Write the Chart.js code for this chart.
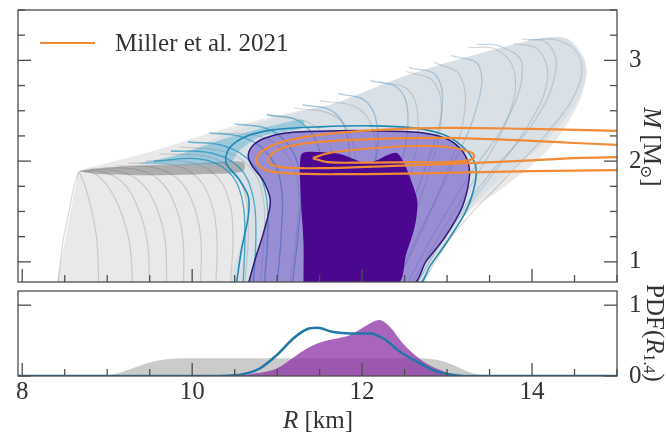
<!DOCTYPE html>
<html>
<head>
<meta charset="utf-8">
<script src="https://cdn.jsdelivr.net/npm/chart.js@4.4.1/dist/chart.umd.min.js"></script>
<style>
  html, body { margin: 0; padding: 0; background: #fff; }
  #wrap { position: relative; width: 666px; height: 433px; }
  #mr { position: absolute; left: 0; top: 0; }
  #pdf { position: absolute; left: 0; top: 283px; }
</style>
</head>
<body>
<div id="wrap">
  <canvas id="mr" width="666" height="290"></canvas>
  <canvas id="pdf" width="666" height="150"></canvas>
</div>
<script>
// axis limits and tick labels
const rRange = [7.95, 15];
const massRange = [0.8, 3.5];
const pdfRange = [0, 1.2];
const rTicks = [8, 10, 12, 14];
const massTicks = [1, 2, 3];
const pdfTicks = [0, 1];
const millerLabel = 'Miller et al. 2021';

// envelope of all prior M-R curves, [R km, M Msun]
const priorBand = [
  [8.40,0.78],[8.50,1.20],[8.58,1.55],[8.64,1.80],[8.66,1.90],[8.95,1.97],[9.50,2.09],
  [10.10,2.25],[10.60,2.37],[11.27,2.50],[11.66,2.57],[12.45,2.83],[13.22,3.03],[14.00,3.20],
  [14.40,3.22],[14.60,3.04],[14.64,2.86],[14.55,2.58],[14.20,2.12],[13.62,1.71],[13.24,1.49],
  [13.00,1.20],[12.80,0.95],[12.70,0.78]
];

// where the maximum-mass ends of the prior curves pile up
const priorRidge = [
  [8.66,1.90],[8.90,1.93],[9.50,1.96],[10.10,1.98],[10.60,1.99],[10.60,1.90],[10.10,1.87],
  [9.50,1.86],[8.90,1.87]
];

// envelope of the posterior M-R curves
const posteriorBand = [
  [9.50,1.96],[9.90,2.08],[10.30,2.24],[10.80,2.38],[11.30,2.50],[11.70,2.58],[12.45,2.83],
  [13.22,3.03],[14.00,3.20],[14.40,3.22],[14.60,3.04],[14.64,2.86],[14.50,2.55],[14.10,2.15],
  [13.60,1.80],[13.30,1.55],[13.05,1.25],[12.85,1.00],[12.70,0.78],[10.50,0.78],[10.58,1.20],
  [10.64,1.55],[10.55,1.80],[10.30,1.93]
];

// dense part of the posterior curves near their maximum mass
const posteriorRidge = [
  [9.35,1.97],[9.90,2.08],[10.30,2.20],[10.80,2.32],[11.30,2.41],[11.30,2.33],[10.80,2.24],
  [10.55,2.10],[10.45,1.99],[10.00,1.97]
];

// individual prior M-R curves
const priorCurves = [
  [[8.42,0.78],[8.48,1.20],[8.55,1.50],[8.61,1.75],[8.66,1.89]],
  [[8.90,0.78],[8.88,1.20],[8.82,1.50],[8.74,1.75],[8.67,1.89]],
  [[9.30,0.78],[9.26,1.20],[9.15,1.52],[9.00,1.76],[8.84,1.88],[8.68,1.90]],
  [[9.50,0.78],[9.47,1.21],[9.36,1.54],[9.19,1.78],[8.96,1.89],[8.72,1.91]],
  [[9.70,0.78],[9.68,1.22],[9.57,1.56],[9.38,1.80],[9.12,1.90],[8.80,1.92]],
  [[9.90,0.78],[9.89,1.23],[9.79,1.58],[9.60,1.82],[9.32,1.92],[8.95,1.93]],
  [[10.10,0.78],[10.10,1.25],[10.00,1.60],[9.82,1.83],[9.52,1.94],[9.10,1.95]],
  [[10.28,0.78],[10.29,1.26],[10.21,1.62],[10.03,1.86],[9.73,1.97],[9.25,1.98]],
  [[10.45,0.78],[10.48,1.28],[10.42,1.65],[10.25,1.88],[9.95,1.99],[9.45,2.00]],
  [[10.62,0.78],[10.66,1.29],[10.62,1.68],[10.46,1.92],[10.15,2.05],[9.62,2.07]],
  [[10.80,0.78],[10.85,1.30],[10.82,1.70],[10.66,1.96],[10.35,2.10],[9.85,2.14]],
  [[11.15,0.78],[11.23,1.30],[11.25,1.75],[11.12,2.06],[10.82,2.24],[10.30,2.28]],
  [[11.50,0.78],[11.62,1.30],[11.70,1.80],[11.62,2.16],[11.38,2.38],[10.90,2.45]],
  [[11.68,0.78],[11.82,1.30],[11.92,1.82],[11.88,2.21],[11.67,2.45],[11.20,2.53]],
  [[11.85,0.78],[12.02,1.30],[12.14,1.85],[12.14,2.26],[11.96,2.52],[11.50,2.60]],
  [[12.15,0.78],[12.38,1.30],[12.58,1.90],[12.66,2.36],[12.55,2.70],[12.20,2.79]],
  [[12.28,0.78],[12.54,1.30],[12.79,1.90],[12.93,2.40],[12.85,2.78],[12.52,2.89]],
  [[12.40,0.78],[12.70,1.30],[13.00,1.90],[13.20,2.45],[13.15,2.85],[12.85,2.98]],
  [[12.58,0.78],[12.94,1.30],[13.35,1.86],[13.70,2.40],[13.80,2.85],[13.60,3.10],[13.25,3.13]],
  [[12.64,0.78],[13.02,1.30],[13.50,1.83],[13.95,2.35],[14.18,2.80],[14.08,3.10],[13.78,3.17]],
  [[12.70,0.78],[13.10,1.30],[13.65,1.80],[14.20,2.30],[14.55,2.75],[14.55,3.05],[14.30,3.20],[13.95,3.20]]
];

// individual posterior M-R curves
const posteriorCurves = [
  [[10.60,0.78],[10.62,1.30],[10.58,1.65],[10.42,1.90],[10.10,2.02],[9.55,2.00]],
  [[10.72,0.78],[10.75,1.30],[10.71,1.67],[10.55,1.94],[10.22,2.08],[9.75,2.10]],
  [[10.85,0.78],[10.89,1.30],[10.86,1.70],[10.70,1.98],[10.38,2.15],[9.95,2.19]],
  [[11.00,0.78],[11.05,1.30],[11.05,1.74],[10.92,2.04],[10.62,2.23],[10.20,2.28]],
  [[11.18,0.78],[11.25,1.30],[11.28,1.77],[11.18,2.10],[10.92,2.31],[10.50,2.37]],
  [[11.38,0.78],[11.48,1.30],[11.53,1.81],[11.47,2.18],[11.25,2.40],[10.88,2.46]],
  [[11.60,0.78],[11.73,1.30],[11.83,1.85],[11.83,2.24],[11.66,2.49],[11.30,2.56]],
  [[11.82,0.78],[11.98,1.30],[12.13,1.88],[12.18,2.31],[12.05,2.59],[11.72,2.67]],
  [[12.02,0.78],[12.22,1.30],[12.43,1.90],[12.54,2.39],[12.44,2.71],[12.10,2.80]],
  [[12.22,0.78],[12.46,1.30],[12.73,1.90],[12.93,2.45],[12.88,2.84],[12.55,2.93]],
  [[12.40,0.78],[12.68,1.30],[13.03,1.90],[13.33,2.48],[13.38,2.94],[13.05,3.05]],
  [[12.53,0.78],[12.86,1.30],[13.28,1.88],[13.73,2.45],[13.88,2.97],[13.62,3.14],[13.35,3.16]],
  [[12.64,0.78],[13.00,1.30],[13.48,1.85],[14.03,2.40],[14.28,2.90],[14.18,3.17],[13.88,3.21]]
];

// credible regions
const contourOuter = [
  [10.52,0.78],[10.58,1.12],[10.66,1.45],[10.66,1.65],[10.55,1.82],[10.40,1.98],[10.43,2.12],
  [10.62,2.24],[10.95,2.31],[11.50,2.34],[12.10,2.35],[12.60,2.33],[12.97,2.26],[13.20,2.13],
  [13.33,1.97],[13.33,1.78],[13.22,1.50],[13.00,1.20],[12.80,0.96],[12.66,0.78]
];
const contour90 = [
  [10.66,0.78],[10.75,1.05],[10.84,1.29],[10.92,1.60],[10.84,1.80],[10.70,1.96],[10.66,2.06],
  [10.72,2.16],[10.86,2.23],[11.10,2.28],[11.60,2.30],[12.20,2.30],[12.72,2.28],[13.00,2.22],
  [13.16,2.12],[13.25,1.98],[13.26,1.82],[13.18,1.55],[12.98,1.25],[12.75,1.00],[12.59,0.78]
];
const contour50 = [
  [11.31,0.78],[11.31,1.20],[11.28,1.60],[11.27,1.98],[11.30,2.08],[11.50,2.09],[11.74,2.07],
  [11.90,2.02],[12.05,1.98],[12.18,2.01],[12.30,2.06],[12.41,2.08],[12.50,1.97],[12.58,1.80],
  [12.65,1.60],[12.62,1.35],[12.52,1.08],[12.41,0.78]
];

// Miller et al. 2021 contours
const millerOuter = [
  [15.05,2.30],[14.50,2.31],[14.00,2.32],[13.00,2.33],[12.20,2.31],[11.60,2.27],[11.15,2.21],
  [10.88,2.13],[10.75,2.01],[10.85,1.92],[11.10,1.88],[11.80,1.87],[12.80,1.88],[14.00,1.90],[15.05,1.91]
];
const millerMid = [
  [15.05,2.16],[14.50,2.18],[14.00,2.20],[13.00,2.23],[12.20,2.22],[11.50,2.19],[11.10,2.14],
  [10.92,2.06],[10.90,1.99],[11.05,1.94],[11.50,1.93],[12.30,1.95],[13.00,1.97],[13.80,2.00],
  [14.50,2.03],[15.05,2.04]
];
const millerInner = [
  [11.42,2.03],[11.60,2.08],[12.00,2.12],[12.60,2.15],[13.00,2.14],[13.30,2.08],[13.30,2.02],
  [13.00,1.99],[12.60,1.99],[12.00,1.985],[11.60,1.99],[11.42,2.03]
];

// PDF of R_1.4
const pdfPrior = [
  [8.90,0],[9.10,0.03],[9.30,0.11],[9.50,0.19],[9.70,0.235],[9.90,0.25],[10.50,0.25],[11.00,0.25],
  [11.50,0.25],[12.00,0.25],[12.50,0.25],[12.80,0.24],[12.95,0.21],[13.10,0.14],[13.25,0.06],
  [13.40,0.015],[13.55,0]
];
const pdfPurple = [
  [10.45,0],[10.70,0.03],[10.90,0.07],[11.00,0.11],[11.20,0.27],[11.35,0.39],[11.55,0.49],
  [11.86,0.58],[12.06,0.72],[12.20,0.79],[12.33,0.69],[12.48,0.46],[12.65,0.27],[12.80,0.15],
  [12.92,0.085],[13.05,0.03],[13.20,0]
];
const pdfBlue = [
  [7.95,0],[10.30,0],[10.50,0.01],[10.65,0.04],[10.80,0.11],[11.00,0.30],[11.19,0.53],[11.35,0.66],
  [11.47,0.68],[11.66,0.62],[11.86,0.60],[12.09,0.60],[12.25,0.53],[12.45,0.34],[12.65,0.20],
  [12.84,0.08],[13.04,0.02],[13.20,0],[15.00,0]
];

const FONT = "'Liberation Serif', 'DejaVu Serif', serif";
const INK = '#333';
const ORANGE = '#f08a36';
Chart.defaults.font.family = FONT;
Chart.defaults.color = INK;

const pts = arr => arr.map(([x, y]) => ({ x, y }));
const closed = arr => arr.concat([arr[0]]);
const series = (data, style) => Object.assign({
  data: pts(data), showLine: true, pointRadius: 0, borderWidth: 1,
  fill: false, tension: 0.4
}, style);
const steps = (a, b, s) => { const out = []; for (let v = a; v <= b + 1e-9; v += s) out.push(+v.toFixed(2)); return out; };

// frame with inward ticks on the left, right and bottom
const frameTicks = {
  id: 'frameTicks',
  afterDatasetsDraw(chart, args, o) {
    const { ctx, chartArea: a, scales } = chart;
    ctx.save();
    ctx.strokeStyle = '#4d4d4d';
    ctx.lineWidth = 1.3;
    const seg = (x1, y1, x2, y2) => { ctx.beginPath(); ctx.moveTo(x1, y1); ctx.lineTo(x2, y2); ctx.stroke(); };
    const xMaj = o.xMajor, yMaj = o.yMajor;
    o.xMinor.forEach(v => { if (!xMaj.includes(v)) { const x = scales.x.getPixelForValue(v); seg(x, a.bottom, x, a.bottom - 7); } });
    xMaj.forEach(v => { const x = scales.x.getPixelForValue(v); seg(x, a.bottom, x, a.bottom - 13); });
    o.yMinor.forEach(v => {
      if (yMaj.includes(v)) return;
      const y = scales.y.getPixelForValue(v);
      seg(a.left, y, a.left + 7, y); seg(a.right, y, a.right - 7, y);
    });
    yMaj.forEach(v => {
      const y = scales.y.getPixelForValue(v);
      seg(a.left, y, a.left + 13, y); seg(a.right, y, a.right - 13, y);
    });
    ctx.strokeRect(a.left, a.top, a.right - a.left, a.bottom - a.top);
    ctx.restore();
  }
};

function richText(ctx, parts, x, y, angle) {
  ctx.save();
  ctx.translate(x, y);
  ctx.rotate(angle);
  let total = 0;
  parts.forEach(p => { ctx.font = p.font; p.w = ctx.measureText(p.text).width; total += p.w; });
  let cx = -total / 2;
  ctx.textBaseline = 'middle';
  ctx.fillStyle = INK;
  parts.forEach(p => { ctx.font = p.font; ctx.fillText(p.text, cx, p.dy || 0); cx += p.w; });
  ctx.restore();
}

const big = `25px ${FONT}`, ital = `italic 25px ${FONT}`, small = `16px ${FONT}`;

const mrLabels = {
  id: 'mrLabels',
  afterDraw(chart) {
    const { ctx } = chart;
    richText(ctx, [
      { text: 'M', font: ital }, { text: ' [M', font: big },
      { text: '\u2299', font: small, dy: 6 }, { text: ']', font: big }
    ], 651, 147, Math.PI / 2);
    ctx.save();
    ctx.strokeStyle = ORANGE; ctx.lineWidth = 2.2;
    ctx.beginPath(); ctx.moveTo(40, 43); ctx.lineTo(95, 43); ctx.stroke();
    ctx.font = big; ctx.fillStyle = INK; ctx.textBaseline = 'middle';
    ctx.fillText(millerLabel, 115, 44);
    ctx.restore();
  }
};

const pdfLabels = {
  id: 'pdfLabels',
  afterDraw(chart) {
    const { ctx } = chart;
    richText(ctx, [
      { text: 'PDF(', font: big }, { text: 'R', font: ital },
      { text: '1.4', font: small, dy: 6 }, { text: ')', font: big }
    ], 654, 50, Math.PI / 2);
    richText(ctx, [{ text: 'R', font: ital }, { text: ' [km]', font: big }], 318, 138, 0);
  }
};

const noPad = s => { s.paddingTop = 0; s.paddingBottom = 0; s.paddingLeft = 0; s.paddingRight = 0; };

// top panel layers, listed from back to front
const mrLayers = [];
mrLayers.push(series(priorBand, { fill: 'shape', backgroundColor: 'rgba(175,175,175,0.28)', borderWidth: 0, tension: 0.3 }));
priorCurves.forEach(c => mrLayers.push(series(c, { borderColor: 'rgba(110,110,110,0.26)', borderWidth: 1.2 })));
mrLayers.push(series(priorRidge, { fill: 'shape', backgroundColor: 'rgba(85,85,85,0.4)', borderWidth: 0, tension: 0.3 }));
mrLayers.push(series(posteriorBand, { fill: 'shape', backgroundColor: 'rgba(130,180,215,0.16)', borderWidth: 0, tension: 0.3 }));
mrLayers.push(series(posteriorRidge, { fill: 'shape', backgroundColor: 'rgba(30,150,195,0.32)', borderWidth: 0, tension: 0.3 }));
posteriorCurves.forEach((c, i) => {
  const a = (0.7 - i * 0.035).toFixed(2);
  const col = i < 6 ? `rgba(20,140,185,${a})` : `rgba(85,145,190,${a})`;
  mrLayers.push(series(c, { borderColor: col, borderWidth: 1.4 }));
});
mrLayers.push(series(closed(contour90), { fill: 'shape', backgroundColor: 'rgba(100,72,195,0.55)', borderColor: '#2c1a7a', borderWidth: 1.5, tension: 0.3 }));
mrLayers.push(series(closed(contourOuter), { borderColor: '#1f8ab3', borderWidth: 1.6, tension: 0.3 }));
mrLayers.push(series(closed(contour50), { fill: 'shape', backgroundColor: '#4b0790', borderWidth: 0, tension: 0.3 }));
[millerOuter, millerMid, millerInner].forEach(c =>
  mrLayers.push(series(c, { borderColor: ORANGE, borderWidth: 2.2, tension: 0.35 })));
mrLayers.forEach((d, i) => { d.order = mrLayers.length - i; });

new Chart(document.getElementById('mr'), {
  type: 'scatter',
  data: { datasets: mrLayers },
  options: {
    responsive: false, animation: false, events: [], devicePixelRatio: 1,
    layout: { padding: { left: 18, top: 10, right: 0, bottom: 0 } },
    scales: {
      x: {
        type: 'linear', min: rRange[0], max: rRange[1],
        grid: { display: false }, border: { display: false }, ticks: { display: false },
        afterFit: s => { s.height = 8; noPad(s); }
      },
      y: {
        type: 'linear', position: 'right', min: massRange[0], max: massRange[1],
        grid: { display: false }, border: { display: false },
        afterBuildTicks: s => { s.ticks = massTicks.map(v => ({ value: v })); },
        ticks: { font: { size: 25 }, padding: 4, color: INK },
        afterFit: s => { s.width = 49; noPad(s); }
      }
    },
    plugins: {
      legend: { display: false }, tooltip: { enabled: false },
      frameTicks: { xMajor: rTicks, xMinor: steps(8, 15, 0.5), yMajor: massTicks, yMinor: steps(1, 3.5, 0.25) }
    }
  },
  plugins: [frameTicks, mrLabels]
});

// bottom panel layers, back to front
const pdfLayers = [
  series(pdfPrior, { fill: 'origin', backgroundColor: 'rgba(160,160,160,0.55)', borderWidth: 0, cubicInterpolationMode: 'monotone' }),
  series(pdfPurple, { fill: 'origin', backgroundColor: 'rgba(140,50,165,0.75)', borderWidth: 0, cubicInterpolationMode: 'monotone' }),
  series(pdfBlue, { borderColor: '#2077a8', borderWidth: 2.5, cubicInterpolationMode: 'monotone' })
];
pdfLayers.forEach((d, i) => { d.order = pdfLayers.length - i; });

new Chart(document.getElementById('pdf'), {
  type: 'scatter',
  data: { datasets: pdfLayers },
  options: {
    responsive: false, animation: false, events: [], devicePixelRatio: 1,
    layout: { padding: { left: 18, top: 8, right: 0, bottom: 0 } },
    scales: {
      x: {
        type: 'linear', min: rRange[0], max: rRange[1],
        grid: { display: false }, border: { display: false },
        afterBuildTicks: s => { s.ticks = rTicks.map(v => ({ value: v })); },
        ticks: { font: { size: 25 }, padding: -7, color: INK, maxRotation: 0, autoSkip: false },
        afterFit: s => { s.height = 57; noPad(s); }
      },
      y: {
        type: 'linear', position: 'right', min: pdfRange[0], max: pdfRange[1],
        grid: { display: false }, border: { display: false },
        afterBuildTicks: s => { s.ticks = pdfTicks.map(v => ({ value: v })); },
        ticks: { font: { size: 25 }, padding: 4, color: INK },
        afterFit: s => { s.width = 49; noPad(s); }
      }
    },
    plugins: {
      legend: { display: false }, tooltip: { enabled: false },
      frameTicks: { xMajor: rTicks, xMinor: steps(8, 15, 0.5), yMajor: pdfTicks, yMinor: [] }
    }
  },
  plugins: [frameTicks, pdfLabels]
});
</script>
</body>
</html>
